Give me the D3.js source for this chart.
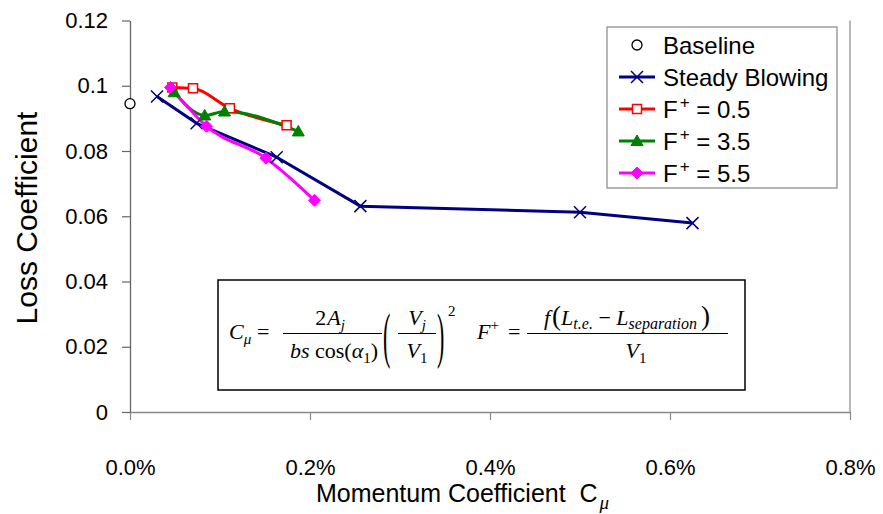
<!DOCTYPE html>
<html>
<head>
<meta charset="utf-8">
<script src="https://cdn.jsdelivr.net/npm/d3@7/dist/d3.min.js"></script>
<style>
  html, body { margin: 0; padding: 0; background: #fff; }
  svg { display: block; }
  .sans { font-family: "Liberation Sans", Arial, Helvetica, sans-serif; }
  .serif { font-family: "Liberation Serif", "Times New Roman", serif; }
</style>
</head>
<body>
<svg id="chart" width="883" height="514"></svg>
<script>
// Momentum coefficient C_mu (in %) and loss coefficient for each case
const baselineX = [0.0];
const baselineY = [0.0945];

const steadyX = [0.030, 0.074, 0.163, 0.256, 0.500, 0.625];
const steadyY = [0.0967, 0.0885, 0.0781, 0.0631, 0.0612, 0.0579];

const f05X = [0.047, 0.070, 0.111, 0.174];
const f05Y = [0.0995, 0.0992, 0.0931, 0.0879];

const f35X = [0.049, 0.083, 0.105, 0.187];
const f35Y = [0.0980, 0.0909, 0.0921, 0.0860];

const f55X = [0.045, 0.085, 0.151, 0.205];
const f55Y = [0.0995, 0.0876, 0.0778, 0.0649];

const seriesNames = ["Baseline", "Steady Blowing", "F+ = 0.5", "F+ = 3.5", "F+ = 5.5"];
const seriesColors = ["#000000", "#000080", "#ff0000", "#008000", "#ff00ff"];

const xTicks = [0, 0.2, 0.4, 0.6, 0.8];
const yTicks = [0, 0.02, 0.04, 0.06, 0.08, 0.1, 0.12];

const svg = d3.select("#chart");
const plotLeft = 130, plotRight = 850, plotTop = 20.5, plotBottom = 412;

const x = d3.scaleLinear().domain([0, 0.8]).range([plotLeft, plotRight]);
const y = d3.scaleLinear().domain([0, 0.12]).range([plotBottom, plotTop]);

// right edge of plot area
svg.append("line")
  .attr("x1", x(0.8)).attr("x2", x(0.8))
  .attr("y1", y(0.12)).attr("y2", y(0))
  .attr("stroke", "#a0a0a0").attr("stroke-width", 1.5);

// axes
const xAxis = svg.append("g")
  .attr("transform", `translate(0,${plotBottom})`)
  .call(d3.axisBottom(x).tickValues(xTicks).tickSize(8).tickSizeOuter(0)
    .tickPadding(39).tickFormat(d => d.toFixed(1) + "%"));
xAxis.select(".domain").attr("stroke", "#888").attr("stroke-width", 1.5);
xAxis.selectAll(".tick line").attr("stroke", "#888").attr("stroke-width", 1.2);
xAxis.selectAll("text").attr("class", "sans").attr("font-size", 22).attr("fill", "#000");

const yAxis = svg.append("g")
  .attr("transform", `translate(${plotLeft},0)`)
  .call(d3.axisLeft(y).tickValues(yTicks).tickSize(8).tickSizeOuter(0)
    .tickPadding(14).tickFormat(d => String(+d.toFixed(2))));
yAxis.select(".domain").attr("stroke", "#666").attr("stroke-width", 1.3);
yAxis.selectAll(".tick line").attr("stroke", "#666").attr("stroke-width", 1.2);
yAxis.selectAll("text").attr("class", "sans").attr("font-size", 22).attr("fill", "#000");

// axis titles
svg.append("text").attr("class", "sans")
  .attr("transform", "translate(37,218) rotate(-90)")
  .attr("text-anchor", "middle").attr("font-size", 30)
  .text("Loss Coefficient");

const xt = svg.append("text").attr("class", "sans")
  .attr("x", 316).attr("y", 502).attr("font-size", 25);
xt.append("tspan").text("Momentum Coefficient\u00a0\u00a0C");
xt.append("tspan").attr("class", "serif").attr("font-style", "italic")
  .attr("font-size", 19).attr("dx", 2).attr("dy", 7).text("μ");

// markers
function markerPath(type, s) {
  switch (type) {
    case "circle": return d3.symbol(d3.symbolCircle, Math.PI * s * s / 4)();
    case "x": { const h = s / 2; return `M${-h},${-h}L${h},${h}M${-h},${h}L${h},${-h}`; }
    case "square": { const h = s / 2; return `M${-h},${-h}H${h}V${h}H${-h}Z`; }
    case "triangle": { const h = s / 2; return `M0,${-h}L${h},${h * 0.75}L${-h},${h * 0.75}Z`; }
    case "diamond": { const h = s / 2; return `M0,${-h}L${h},0L0,${h}L${-h},0Z`; }
  }
}
const markerTypes = ["circle", "x", "square", "triangle", "diamond"];
const markerSizes = [10, 12, 9, 12, 12];
function drawMarker(g, i, cx, cy) {
  const type = markerTypes[i], c = seriesColors[i];
  const p = g.append("path").attr("d", markerPath(type, markerSizes[i]))
    .attr("transform", `translate(${cx},${cy})`);
  if (type === "circle") p.attr("fill", "#fff").attr("stroke", c).attr("stroke-width", 1.3);
  else if (type === "x") p.attr("fill", "none").attr("stroke", c).attr("stroke-width", 1.5);
  else if (type === "square") p.attr("fill", "#fff").attr("stroke", c).attr("stroke-width", 1.5);
  else p.attr("fill", c).attr("stroke", c).attr("stroke-width", 1);
}

const seriesData = [
  [baselineX, baselineY],
  [steadyX, steadyY],
  [f05X, f05Y],
  [f35X, f35Y],
  [f55X, f55Y]
];

// steady blowing is drawn with straight segments, the pulsed cases smoothed
const straight = d3.line().x(d => x(d[0])).y(d => y(d[1]));
const smooth = d3.line().x(d => x(d[0])).y(d => y(d[1])).curve(d3.curveMonotoneX);

// lines first, then markers on top
const plot = svg.append("g");
[1, 2, 3, 4].forEach(i => {
  const [xs, ys] = seriesData[i];
  const pts = xs.map((v, k) => [v, ys[k]]);
  plot.append("path").datum(pts).attr("d", i === 1 ? straight : smooth)
    .attr("fill", "none").attr("stroke", seriesColors[i])
    .attr("stroke-width", 3).attr("stroke-linejoin", "round");
});
[0, 1, 2, 3, 4].forEach(i => {
  const [xs, ys] = seriesData[i];
  xs.forEach((v, k) => drawMarker(plot, i, x(v), y(ys[k])));
});

// legend
const lg = svg.append("g");
lg.append("rect").attr("x", 607).attr("y", 27).attr("width", 230).attr("height", 161)
  .attr("fill", "#fff").attr("stroke", "#909090").attr("stroke-width", 1.3);
seriesNames.forEach((name, i) => {
  const cy = 45 + i * 32;
  if (i > 0) {
    lg.append("line").attr("x1", 619).attr("x2", 655).attr("y1", cy).attr("y2", cy)
      .attr("stroke", seriesColors[i]).attr("stroke-width", 3);
  }
  drawMarker(lg, i, 637, cy);
  const label = lg.append("text").attr("class", "sans").attr("x", 663).attr("y", cy + 8.5)
    .attr("font-size", 24).attr("fill", "#000");
  if (name.startsWith("F+")) {
    label.append("tspan").text("F");
    label.append("tspan").attr("font-size", 17).attr("dx", 2).attr("dy", -10).text("+");
    label.append("tspan").attr("dy", 10).text(name.slice(2));
  } else {
    label.text(name);
  }
});

// definitions box
const fb = svg.append("g").attr("class", "serif");
fb.append("rect").attr("x", 218).attr("y", 280).attr("width", 527).attr("height", 110)
  .attr("fill", "#fff").attr("stroke", "#000").attr("stroke-width", 1.5);

const fs = 22, sub = 15;
function txt(xp, yp, anchor) {
  return fb.append("text").attr("x", xp).attr("y", yp).attr("text-anchor", anchor || "start")
    .attr("font-size", fs).attr("fill", "#000");
}
function bar(x1, x2) {
  fb.append("line").attr("x1", x1).attr("x2", x2).attr("y1", 333.5).attr("y2", 333.5)
    .attr("stroke", "#000").attr("stroke-width", 1.1);
}
function bigParen(ch, xp, sy) {
  fb.append("text").attr("transform", `translate(${xp},339) scale(1,${sy})`)
    .attr("y", 6).attr("font-size", fs).attr("font-weight", 300).text(ch);
}

// C_mu = 2A_j / (bs cos(alpha_1)) * (V_j / V_1)^2
let eq = txt(229, 339);
eq.append("tspan").attr("font-style", "italic").text("C");
eq.append("tspan").attr("font-style", "italic").attr("font-size", sub).attr("dy", 5).text("μ");
txt(257, 339).text("=");
bar(283, 382);
eq = txt(330, 325, "middle");
eq.append("tspan").text("2");
eq.append("tspan").attr("font-style", "italic").attr("dx", 1).text("A");
eq.append("tspan").attr("font-style", "italic").attr("font-size", sub).attr("dy", 5).text("j");
eq = txt(334, 358, "middle");
eq.append("tspan").attr("font-style", "italic").text("bs");
eq.append("tspan").text(" cos(");
eq.append("tspan").attr("font-style", "italic").text("α");
eq.append("tspan").attr("font-size", sub).attr("dy", 5).text("1");
eq.append("tspan").attr("dy", -5).text(")");
bigParen("(", 383, 2.8);
bar(398, 436);
eq = txt(417, 325, "middle");
eq.append("tspan").attr("font-style", "italic").text("V");
eq.append("tspan").attr("font-style", "italic").attr("font-size", sub).attr("dy", 5).text("j");
eq = txt(417, 358, "middle");
eq.append("tspan").attr("font-style", "italic").text("V");
eq.append("tspan").attr("font-size", sub).attr("dy", 5).text("1");
bigParen(")", 437, 2.8);
txt(448, 316).attr("font-size", sub).text("2");

// F+ = f(L_te - L_separation) / V_1
eq = txt(477, 339);
eq.append("tspan").attr("font-style", "italic").text("F");
eq.append("tspan").attr("font-size", sub).attr("dy", -9).text("+");
txt(508, 339).text("=");
bar(527, 728);
eq = txt(627, 325, "middle");
eq.append("tspan").attr("font-style", "italic").text("f");
eq.append("tspan").attr("font-size", 27).attr("font-weight", 300).attr("dx", 2).text("(");
eq.append("tspan").attr("font-style", "italic").text("L");
eq.append("tspan").attr("font-style", "italic").attr("font-size", 16).attr("dy", 4).text("t.e.");
eq.append("tspan").attr("dy", -4).text(" − ");
eq.append("tspan").attr("font-style", "italic").text("L");
eq.append("tspan").attr("font-style", "italic").attr("font-size", 16).attr("dy", 4).text("separation");
eq.append("tspan").attr("dy", -4).attr("font-size", 27).attr("font-weight", 300).attr("dx", 4).text(")");
eq = txt(636, 358, "middle");
eq.append("tspan").attr("font-style", "italic").text("V");
eq.append("tspan").attr("font-size", sub).attr("dy", 5).text("1");
</script>
</body>
</html>
